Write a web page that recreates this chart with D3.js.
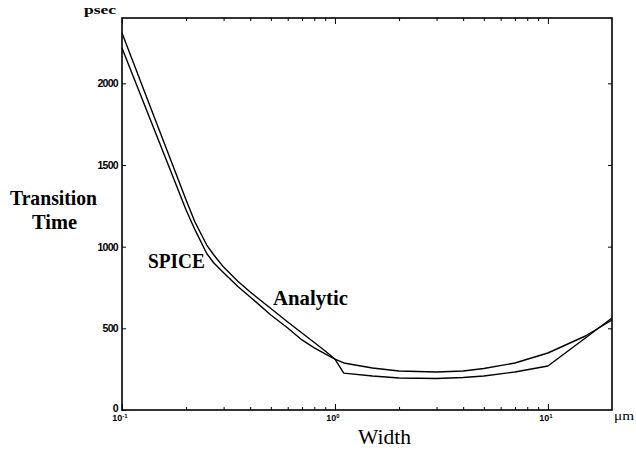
<!DOCTYPE html>
<html><head><meta charset="utf-8">
<script src="https://cdn.jsdelivr.net/npm/d3@7"></script>
<style>body{margin:0;background:#fff} svg{display:block}</style>
</head><body><svg id="c" width="636" height="450"></svg>
<script>
// Data
const widths = [0.1,0.15,0.2,0.22,0.25,0.27,0.3,0.35,0.4,0.5,0.6,0.7,0.8,0.9,1.0,1.1,1.5,2,3,4,5,7,10,15,20];
const spiceValues = [2216,1636,1224,1104,958,900,840,756,692,582,502,429,380,343,312,288,257,239,233,239,254,288,349,453,551];
const analyticValues = [2308,1710,1286,1151,1010,949,875,788,722,621,539,471,413,361,312,226,208,196,193,199,208,233,269,441,563];
const yTicks = [0,500,1000,1500,2000];
const xMajorTicks = [0.1,1,10];
const xExponents = ["-1","0","1"];
const xMinorTicks = [0.2,0.3,0.4,0.5,0.6,0.7,0.8,0.9,2,3,4,5,6,7,8,9];

const svg = d3.select("#c");
const L = 122, R = 612, T = 18, B = 410;
const x = d3.scaleLog().domain([0.1,20]).range([L,R]);
const y = d3.scaleLinear().domain([0,2400]).range([B,T]);

const serif = "'Liberation Serif','Times New Roman',serif";
const sans = "'Liberation Sans',Arial,sans-serif";

function styleAxis(g){ g.select(".domain").remove(); g.selectAll(".tick line").attr("stroke","#000").attr("stroke-width",1); }

// bottom & top ticks (inward)
svg.append("g").attr("transform",`translate(0,${B})`)
  .call(d3.axisBottom(x).tickValues(xMajorTicks).tickSize(-6).tickFormat(""))
  .call(styleAxis);
svg.append("g").attr("transform",`translate(0,${B})`)
  .call(d3.axisBottom(x).tickValues(xMinorTicks).tickSize(-3).tickFormat(""))
  .call(styleAxis);
svg.append("g").attr("transform",`translate(0,${T})`)
  .call(d3.axisTop(x).tickValues(xMajorTicks).tickSize(-6).tickFormat(""))
  .call(styleAxis);
svg.append("g").attr("transform",`translate(0,${T})`)
  .call(d3.axisTop(x).tickValues(xMinorTicks).tickSize(-3).tickFormat(""))
  .call(styleAxis);

// left axis with labels
const ya = svg.append("g").attr("transform",`translate(${L},0)`)
  .call(d3.axisLeft(y).tickValues(yTicks).tickSize(-4).tickPadding(4).tickFormat(d3.format("d")))
  .call(styleAxis);
ya.selectAll("text").attr("font-family",sans).attr("font-size",10.5).attr("font-weight","bold").attr("fill","#000").attr("letter-spacing","-0.7");
ya.selectAll(".tick").filter(d=>d===0).select("text").attr("dy","0.1em");
svg.append("g").attr("transform",`translate(${R},0)`)
  .call(d3.axisRight(y).tickValues(yTicks.slice(1)).tickSize(-4).tickFormat(""))
  .call(styleAxis);

// x tick labels
xMajorTicks.forEach((v,i)=>{
  const t = svg.append("text").attr("x",x(v)-2).attr("y",421).attr("text-anchor","middle")
    .attr("font-family",sans).attr("font-size",9).attr("font-weight","bold").attr("fill","#000");
  t.append("tspan").text("10");
  t.append("tspan").attr("dy",-3.5).attr("font-size",6).text(xExponents[i]);
});

// frame
svg.append("rect").attr("x",L).attr("y",T).attr("width",R-L).attr("height",B-T)
  .attr("fill","none").attr("stroke","#000").attr("stroke-width",1.6);

// curves
const line = d3.line().x((d,i)=>x(widths[i])).y(d=>y(d));
[spiceValues, analyticValues].forEach(vals=>{
  svg.append("path").datum(vals).attr("d",line).attr("fill","none")
    .attr("stroke","#000").attr("stroke-width",1.4).attr("stroke-linejoin","round");
});

// labels
function txt(s,xx,yy,size,len,weight,anchor){
  const t = svg.append("text").attr("x",xx).attr("y",yy).attr("font-family",serif)
    .attr("font-size",size).attr("font-weight",weight||"normal").attr("fill","#000").text(s);
  if(anchor) t.attr("text-anchor",anchor);
  if(len) t.attr("textLength",len).attr("lengthAdjust","spacingAndGlyphs");
  return t;
}
txt("psec",84,14,13,32,"bold");
txt("Transition",10,205,22,87,"bold");
txt("Time",32,229,22,45,"bold");
txt("SPICE",148,268,22,57,"bold");
txt("Analytic",273,305,22,75,"bold");
txt("Width",358,444,22,53,"normal");
txt("\u03bcm",614,420,12,20,"normal");
</script></body></html>
